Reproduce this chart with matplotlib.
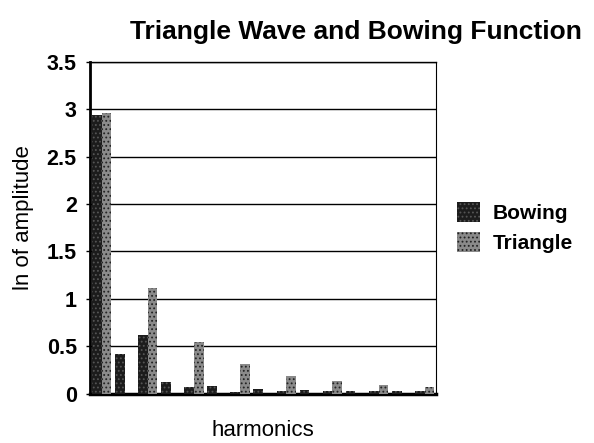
import numpy as np
import matplotlib.pyplot as plt

plt.rcParams['font.family'] = ['Liberation Sans', 'DejaVu Sans']
plt.rcParams['hatch.linewidth'] = 0.8

# ln of amplitude for the first 15 harmonics
harmonics = np.arange(1, 16)
bowing = [2.94, 0.42, 0.62, 0.12, 0.07, 0.08, 0.02, 0.05, 0.03, 0.045, 0.03, 0.03, 0.03, 0.03, 0.03]
triangle = [2.96, 0, 1.11, 0, 0.55, 0, 0.31, 0, 0.19, 0, 0.13, 0, 0.095, 0, 0.07]

fig = plt.figure(figsize=(5.94, 4.43), dpi=100)
ax = fig.add_axes([0.1515, 0.111, 0.583, 0.750])

w = 0.42
ax.bar(harmonics - w / 2, bowing, w, color='#1c1c1c', edgecolor='#555555',
       hatch='....', linewidth=0, label='Bowing', zorder=3)
ax.bar(harmonics + w / 2, triangle, w, color='#8a8a8a', edgecolor='#222222',
       hatch='....', linewidth=0, label='Triangle', zorder=3)

ax.set_xlim(0.5, 15.5)
ax.set_ylim(0, 3.5)
ax.set_yticks(np.arange(0, 3.51, 0.5))
ax.set_yticklabels(['0', '0.5', '1', '1.5', '2', '2.5', '3', '3.5'],
                   fontsize=15.5, fontweight='bold')
ax.set_xticks([])
ax.tick_params(axis='y', length=3, width=1, pad=6.5)
ax.grid(axis='y', color='black', linewidth=1, zorder=0)

ax.spines['left'].set_linewidth(2)
ax.spines['bottom'].set_linewidth(2.5)
ax.spines['right'].set_linewidth(0.8)
ax.spines['top'].set_linewidth(1)

ax.set_ylabel('ln of amplitude', fontsize=16)
ax.yaxis.set_label_coords(-0.162, 0.53)
ax.set_xlabel('harmonics', fontsize=16)
ax.xaxis.set_label_coords(0.50, -0.078)

fig.text(0.6, 0.928, 'Triangle Wave and Bowing Function', ha='center', va='center',
         fontsize=19, fontweight='bold')

fig.legend(loc='center left', bbox_to_anchor=(0.738, 0.487), frameon=False,
           prop={'size': 15, 'weight': 'bold'}, handlelength=1.1, handleheight=1.1,
           handletextpad=0.6, labelspacing=0.42)

fig.savefig('out.png', dpi=100)
